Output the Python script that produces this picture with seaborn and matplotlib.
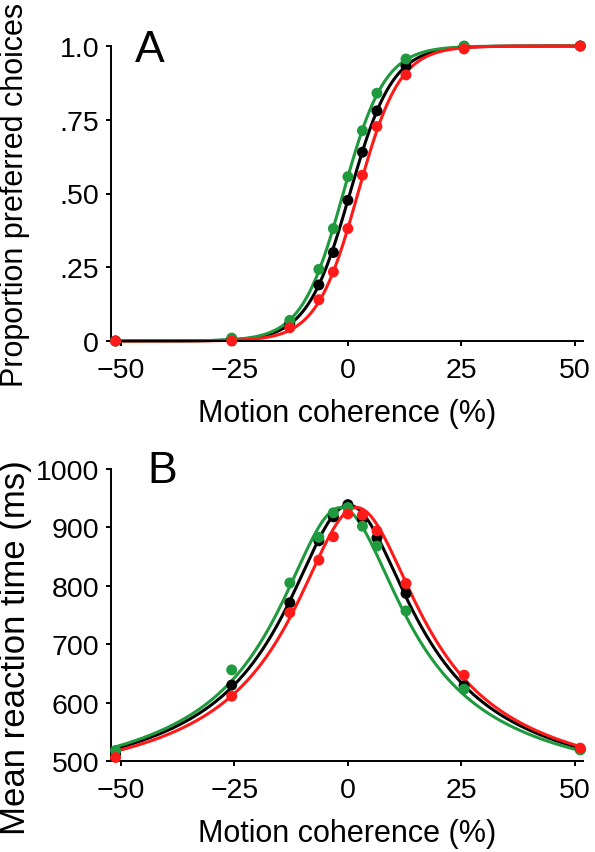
"""
Choice and reaction time vs motion coherence (two panels)
"""

import matplotlib
matplotlib.use("Agg")

import matplotlib.pyplot as plt
import numpy as np
import pandas as pd
import seaborn as sns

# =========================================================
# Data
# =========================================================

COHERENCE = [-51.2, -25.6, -12.8, -6.4, -3.2, 0.0, 3.2, 6.4, 12.8, 25.6, 51.2]

CONDITIONS = ["black", "green", "red"]

COLORS = {
    "black": "#000000",
    "green": "#1f9a3e",
    "red": "#ff1a1a",
}

# Panel A: proportion preferred choices
CHOICE_BLACK = [0.0, 0.005, 0.06, 0.19, 0.30, 0.477, 0.64, 0.78, 0.932, 0.998, 1.0]
CHOICE_GREEN = [0.0, 0.01, 0.07, 0.243, 0.381, 0.557, 0.713, 0.84, 0.956, 1.0, 1.0]
CHOICE_RED = [0.0, 0.0, 0.045, 0.14, 0.234, 0.381, 0.562, 0.727, 0.902, 0.99, 1.0]

# Panel B: mean reaction time (ms)
RT_BLACK = [512, 630, 771, 877, 918, 939, 914, 882, 787, 629, 520]
RT_GREEN = [518, 656, 805, 883, 925, 934, 902, 868, 757, 623, 519]
RT_RED = [506, 611, 754, 844, 884, 923, 921, 894, 804, 647, 522]

# logistic fit per condition: (midpoint %, slope per %)
FIT_CHOICE = {
    "black": (0.43, 0.212),
    "green": (-1.05, 0.218),
    "red": (2.2, 0.218),
}

# diffusion-model fit per condition: (shift %, base ms, amplitude ms, gain per %)
FIT_RT = {
    "black": (0.2, 412, 526, 0.0937),
    "green": (-1.6, 414, 520, 0.095),
    "red": (1.9, 412, 522, 0.094),
}

X_TICKS = [-50, -25, 0, 25, 50]
A_TICKS = [0, 0.25, 0.5, 0.75, 1.0]
A_TICK_LABELS = ["0", ".25", ".50", ".75", "1.0"]
B_TICKS = [500, 600, 700, 800, 900, 1000]

# =========================================================
# Plot Settings
# =========================================================

sns.set_style("ticks")
plt.rcParams["font.family"] = ["Liberation Sans", "DejaVu Sans"]
plt.rcParams["axes.linewidth"] = 1.4
plt.rcParams["axes.edgecolor"] = "black"
plt.rcParams["axes.labelcolor"] = "black"
plt.rcParams["text.color"] = "black"
plt.rcParams["xtick.color"] = "black"
plt.rcParams["ytick.color"] = "black"
plt.rcParams["xtick.major.width"] = 1.4
plt.rcParams["ytick.major.width"] = 1.4
plt.rcParams["xtick.major.size"] = 3.5
plt.rcParams["ytick.major.size"] = 3.5

TICK_SIZE = 20.5
LABEL_SIZE = 22
LETTER_SIZE = 32


# =========================================================
# Build tables
# =========================================================

points_a = pd.DataFrame({
    "coherence": COHERENCE * 3,
    "value": CHOICE_BLACK + CHOICE_GREEN + CHOICE_RED,
    "condition": sum([[c] * len(COHERENCE) for c in CONDITIONS], []),
})

points_b = pd.DataFrame({
    "coherence": COHERENCE * 3,
    "value": RT_BLACK + RT_GREEN + RT_RED,
    "condition": sum([[c] * len(COHERENCE) for c in CONDITIONS], []),
})

grid = np.linspace(COHERENCE[0], COHERENCE[-1], 400)

fit_a_rows = []
fit_b_rows = []
for cond in CONDITIONS:
    mid, slope = FIT_CHOICE[cond]
    p = 1.0 / (1.0 + np.exp(-slope * (grid - mid)))
    fit_a_rows.append(pd.DataFrame({"coherence": grid, "value": p, "condition": cond}))

    shift, base, amp, gain = FIT_RT[cond]
    z = gain * (grid - shift)
    g = np.where(np.abs(z) < 1e-9, 1.0, np.tanh(z) / np.where(z == 0, 1, z))
    fit_b_rows.append(pd.DataFrame({"coherence": grid, "value": base + amp * g, "condition": cond}))

fit_a = pd.concat(fit_a_rows, ignore_index=True)
fit_b = pd.concat(fit_b_rows, ignore_index=True)


# =========================================================
# Figure
# =========================================================

W, H = 595, 853
fig = plt.figure(figsize=(W / 100, H / 100), dpi=100)


def px_axes(left, top, right, bottom):
    return fig.add_axes([left / W, 1 - bottom / H, (right - left) / W, (bottom - top) / H])


def draw_panel(ax, fits, points):
    for cond in CONDITIONS:
        sns.lineplot(
            data=fits[fits["condition"] == cond],
            x="coherence", y="value",
            color=COLORS[cond], linewidth=2.2,
            ax=ax, legend=False,
        )
        sns.scatterplot(
            data=points[points["condition"] == cond],
            x="coherence", y="value",
            color=COLORS[cond], s=62, edgecolor="none",
            ax=ax, legend=False, clip_on=False, zorder=5,
        )
    for line in ax.lines:
        line.set_clip_on(False)
    sns.despine(ax=ax)
    ax.set_xlim(-52.2, 51.8)
    ax.set_xticks(X_TICKS)
    ax.tick_params(axis="x", labelsize=TICK_SIZE, pad=8)
    ax.tick_params(axis="y", labelsize=TICK_SIZE, pad=5)
    ax.set_xlabel("Motion coherence (%)", fontsize=LABEL_SIZE, labelpad=11)


ax_a = px_axes(111, 47, 583, 342)
draw_panel(ax_a, fit_a, points_a)
ax_a.set_ylim(0, 1.0)
ax_a.set_yticks(A_TICKS)
ax_a.set_yticklabels(A_TICK_LABELS)
ax_a.set_ylabel("Proportion preferred choices", fontsize=22)
ax_a.yaxis.set_label_coords(-0.172, 0.5)

ax_b = px_axes(111, 470, 583, 762)
draw_panel(ax_b, fit_b, points_b)
ax_b.set_ylim(500, 1000)
ax_b.set_yticks(B_TICKS)
ax_b.set_ylabel("Mean reaction time (ms)", fontsize=25)
ax_b.yaxis.set_label_coords(-0.168, 0.39)

fig.text(135 / W, 1 - 62 / H, "A", fontsize=LETTER_SIZE, va="baseline")
fig.text(147 / W, 1 - 483 / H, "B", fontsize=LETTER_SIZE, va="baseline")

fig.savefig("out.png", dpi=100)
